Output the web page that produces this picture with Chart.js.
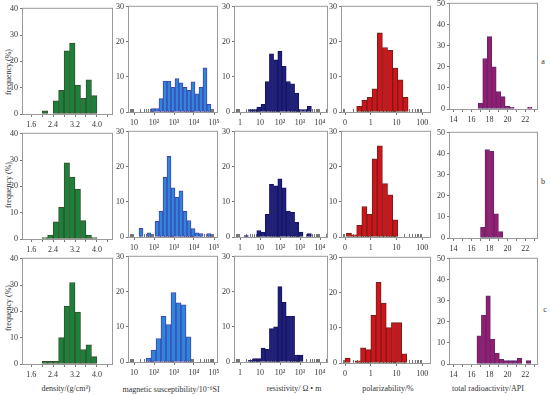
<!DOCTYPE html>
<html>
<head>
<meta charset="utf-8">
<script src="https://cdn.jsdelivr.net/npm/chart.js@4.4.1/dist/chart.umd.min.js"></script>
<style>
  body { margin: 0; background: #fff; }
  #wrap { position: relative; width: 550px; height: 395px; overflow: hidden; font-family: "Liberation Serif", "Times New Roman", serif; color: #333; }
  canvas { position: absolute; }
  .t { position: absolute; font-size: 8px; white-space: nowrap; transform: translate(-50%, -50%); }
  .v { transform: translate(-50%, -50%) rotate(-90deg); }
</style>
</head>
<body>
<div id="wrap">
  <div class="t v" style="left:8px;top:72px">frequency (%)</div>
  <div class="t v" style="left:8px;top:185px">frequency (%)</div>
  <div class="t v" style="left:8px;top:308px">frequency (%)</div>
  <div class="t" style="left:543px;top:61px">a</div>
  <div class="t" style="left:543px;top:181px">b</div>
  <div class="t" style="left:545px;top:309px">c</div>
  <div class="t" style="left:66px;top:388px">density/(g/cm³)</div>
  <div class="t" style="left:171px;top:388px">magnetic susceptibility/10⁻⁶SI</div>
  <div class="t" style="left:294px;top:388px">resistivity/ Ω • m</div>
  <div class="t" style="left:388px;top:388px">polarizability/%</div>
  <div class="t" style="left:488px;top:388px">total radioactivity/API</div>
</div>
<script>
// histogram data, frequency in %; rows a, b, c
// density (g/cm3): first bin edge and bin width per row
const densityStart = [2.0, 2.0, 2.0];
const densityWidth = [0.2, 0.2, 0.2];
const densityA = [1.2, 0, 5, 9, 24, 27, 11, 6, 13, 7];
const densityB = [0.5, 1.5, 6.5, 12, 29, 23.5, 19, 7, 1.5, 0.5];
const densityC = [1, 1, 1, 10, 22, 31, 19.7, 5.5, 7.3, 2.8];

// magnetic susceptibility, bins in log10 units
const magStart = [1.85, 1.25, 1.6];
const magWidth = [0.2, 0.2, 0.25];
const magA = [1, 1, 3.8, 8.8, 8.8, 7, 9.5, 8.3, 7, 6.2, 8.6, 5.2, 7, 12.6, 2.2];
const magB = [2.5, 0, 1.2, 0, 4.5, 7.3, 17, 23, 14, 11.3, 13.2, 7.3, 4.7, 2.4, 1.2, 1, 0, 1];
const magC = [1.1, 3.4, 6.7, 13, 10.7, 19.8, 16.9, 16.3, 7.2];

// resistivity, bins in log10 units
const resStart = [0.42, 0.21, 0.42];
const resWidth = [0.21, 0.21, 0.21];
const resA = [0.7, 0.7, 1.4, 2.2, 8.7, 16.6, 14.9, 17.3, 13, 8.7, 8, 5.4, 0.7, 0.7, 1.6];
const resB = [0.4, 0, 0, 1.8, 1.4, 6.5, 15, 14.6, 16.6, 14, 7.4, 7, 4.2, 1.4, 0, 1];
const resC = [0.5, 1, 1, 4, 3.6, 9.5, 10, 21.5, 17, 13, 13, 2, 2];

// polarizability, bins in log10 units
const polStart = [-0.55, -0.95, -1.0];
const polWidth = [0.2, 0.2, 0.2];
const polA = [1.6, 3.3, 4.2, 6.6, 22.6, 18.4, 17.6, 12.5, 9.2, 4.2];
const polB = [1.1, 0.6, 3.3, 8.7, 6.5, 22.3, 26, 15.2, 12, 4.9];
const polC = [1.4, 0, 0.6, 4.3, 3.8, 13.6, 23, 17.1, 10.1, 11.5, 11.5, 2.6];

// total radioactivity (API)
const radStart = [16.75, 17.0, 16.6];
const radWidth = [0.5, 0.5, 0.5];
const radA = [2.8, 24, 34.4, 20, 8.3, 5.9, 1.25, 0.8, 0, 0, 0, 0.8];
const radB = [5.1, 42, 41.2, 11.5, 3];
const radC = [13.4, 23.3, 32.4, 11.8, 5.2, 2.2, 1.6, 1.6, 1.6, 2.8, 0, 1.6];

// tick values and labels
const densityTicks = [1.6, 2.0, 2.4, 2.8, 3.2, 3.6, 4.0, 4.4];
const densityTickText = ['1.6', '', '2.4', '', '3.2', '', '4.0', ''];
const magTicks = [1, 2, 3, 4, 5];
const magTickText = ['10', '10²', '10³', '10⁴', '10⁵'];
const resTicks = [0, 1, 2, 3, 4];
const resTickText = ['1', '10', '10²', '10³', '10⁴'];
const polTicks = [-1, 0, 1, 2];
const polTickText = ['0', '1', '10', '100'];
const radTicks = [14, 15, 16, 17, 18, 19, 20, 21, 22, 23];
const radTickText = ['14', '', '16', '', '18', '', '20', '', '22', ''];

const FONT = "'Liberation Serif', 'Times New Roman', serif";
const PH = 106;
const rowTop = [[8, 6, 6, 6, 3], [133, 131, 131, 131, 132], [258, 256, 256, 257, 258]];

const cols = [
  { L: 23, W: 89, min: 1.3, max: 4.55, ymax: 40, ticks: densityTicks, text: densityTickText,
    start: densityStart, width: densityWidth, rows: [densityA, densityB, densityC],
    fill: '#18813a', edge: '#3b4d2b', log: false },
  { L: 129, W: 88, min: 0.75, max: 5.15, ymax: 30, ticks: magTicks, text: magTickText,
    start: magStart, width: magWidth, rows: [magA, magB, magC],
    fill: '#2d86dc', edge: '#4244ad', log: true },
  { L: 235, W: 92, min: -0.25, max: 4.35, ymax: 30, ticks: resTicks, text: resTickText,
    start: resStart, width: resWidth, rows: [resA, resB, resC],
    fill: '#1f1f7e', edge: '#15155c', log: true },
  { L: 342, W: 88, min: -1.12, max: 2.3, ymax: 30, ticks: polTicks, text: polTickText,
    start: polStart, width: polWidth, rows: [polA, polB, polC],
    fill: '#d3121d', edge: '#6a2616', log: true },
  { L: 450, W: 87, min: 13.6, max: 23.3, ymax: 50, ticks: radTicks, text: radTickText,
    start: radStart, width: radWidth, rows: [radA, radB, radC],
    fill: '#991b70', edge: '#5b2b6e', log: false }
];

// box around the plot area
const frame = {
  id: 'frame',
  afterDraw(chart) {
    const a = chart.chartArea, ctx = chart.ctx;
    ctx.save();
    ctx.strokeStyle = '#9a9a9a';
    ctx.lineWidth = 1;
    ctx.strokeRect(a.left - 0.5, a.top - 0.5, a.right - a.left + 1, a.bottom - a.top + 1);
    ctx.restore();
  }
};

// minor ticks 2..9 for the log10 axes, drawn under the bars
const logMinor = {
  id: 'logMinor',
  beforeDatasetsDraw(chart, args, opts) {
    if (!opts.on) return;
    const x = chart.scales.x, a = chart.chartArea, ctx = chart.ctx;
    ctx.save();
    ctx.strokeStyle = '#777';
    ctx.lineWidth = 1;
    for (let n = Math.floor(x.min); n < x.max; n++) {
      for (let k = 2; k <= 9; k++) {
        const v = n + Math.log10(k);
        if (v <= x.min || v >= x.max) continue;
        const px = Math.round(x.getPixelForValue(v)) + 0.5;
        ctx.beginPath();
        ctx.moveTo(px, a.bottom);
        ctx.lineTo(px, a.bottom - 3);
        ctx.stroke();
      }
    }
    ctx.restore();
  }
};

const wrap = document.getElementById('wrap');

cols.forEach((c, ci) => {
  c.rows.forEach((vals, ri) => {
    const T = rowTop[ri][ci];
    const cv = document.createElement('canvas');
    const w = c.W + 36, h = PH + 24;
    cv.width = w; cv.height = h;
    cv.style.left = (c.L - 24) + 'px';
    cv.style.top = (T - 6) + 'px';
    cv.style.width = w + 'px';
    cv.style.height = h + 'px';
    wrap.appendChild(cv);

    const pts = vals.map((y, i) => ({ x: c.start[ri] + (i + 0.5) * c.width[ri], y: y }));

    new Chart(cv.getContext('2d'), {
      type: 'bar',
      data: {
        datasets: [{
          data: pts,
          backgroundColor: c.fill,
          borderColor: c.edge,
          borderWidth: 1,
          borderSkipped: false,
          barPercentage: 1,
          categoryPercentage: 1
        }]
      },
      options: {
        responsive: false,
        animation: false,
        events: [],
        layout: { padding: { left: 0, top: 6, right: 12, bottom: 0 } },
        plugins: { legend: { display: false }, tooltip: { enabled: false }, logMinor: { on: c.log } },
        scales: {
          x: {
            type: 'linear',
            min: c.min,
            max: c.max,
            offset: false,
            afterBuildTicks: s => { s.ticks = c.ticks.map(v => ({ value: v })); },
            afterFit: s => { s.height = 18; },
            border: { display: false },
            grid: { drawOnChartArea: false, offset: false, tickLength: 3, color: '#777' },
            ticks: {
              autoSkip: false, maxRotation: 0, padding: 3, color: '#333',
              font: { family: FONT, size: 8 },
              callback: (v, i) => c.text[i]
            }
          },
          y: {
            min: 0,
            max: c.ymax,
            afterFit: s => { s.width = 24; },
            border: { display: false },
            grid: { drawOnChartArea: false, tickLength: 3, color: '#777' },
            ticks: { stepSize: 10, padding: 2, color: '#333', font: { family: FONT, size: 8 } }
          }
        }
      },
      plugins: [frame, logMinor]
    });
  });
});
</script>
</body>
</html>
